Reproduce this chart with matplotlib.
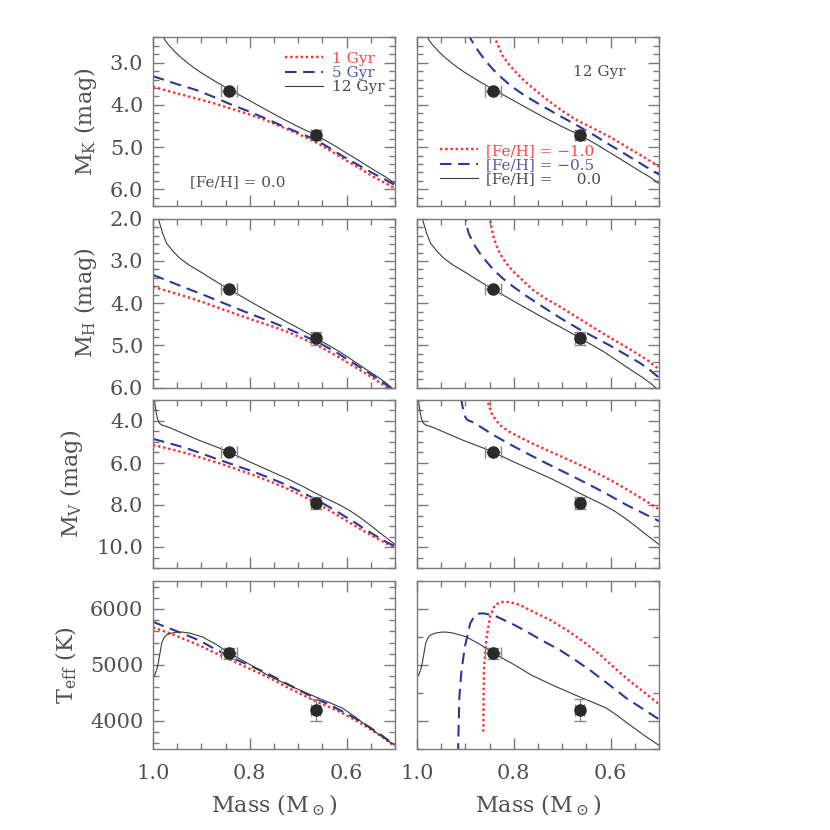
import numpy as np
import matplotlib
matplotlib.use("Agg")
import matplotlib.pyplot as plt
from matplotlib.ticker import MultipleLocator, FormatStrFormatter, NullFormatter

plt.rcParams['font.family'] = ['DejaVu Serif']
plt.rcParams['mathtext.fontset'] = 'dejavuserif'

# ------------------------------------------------------------------ data
# M_K
mk_12_m = [0.986, 0.979, 0.970, 0.955, 0.944, 0.925, 0.903, 0.875, 0.843, 0.800, 0.772, 0.740, 0.703, 0.664, 0.630, 0.600, 0.570, 0.545, 0.520, 0.500]
mk_12_v = [2.20, 2.40, 2.55, 2.74, 2.86, 3.04, 3.22, 3.42, 3.63, 3.90, 4.08, 4.28, 4.50, 4.71, 4.93, 5.14, 5.35, 5.53, 5.70, 5.86]
mk_age_m = [1.000, 0.950, 0.910, 0.875, 0.841, 0.805, 0.772, 0.740, 0.703, 0.661, 0.630, 0.600, 0.570, 0.545, 0.520, 0.500]
mk_5_v = [3.32, 3.51, 3.65, 3.81, 3.98, 4.14, 4.30, 4.46, 4.64, 4.84, 5.06, 5.27, 5.46, 5.62, 5.77, 5.90]
mk_1_v = [3.57, 3.73, 3.85, 3.96, 4.08, 4.21, 4.34, 4.49, 4.67, 4.90, 5.11, 5.32, 5.52, 5.70, 5.85, 5.98]
mk_m05_m = [0.895, 0.890, 0.880, 0.870, 0.856, 0.842, 0.825, 0.808, 0.790, 0.773, 0.739, 0.705, 0.670, 0.635, 0.601, 0.566, 0.532, 0.498]
mk_m05_v = [2.30, 2.42, 2.61, 2.78, 2.99, 3.17, 3.36, 3.53, 3.68, 3.81, 4.04, 4.26, 4.48, 4.71, 4.95, 5.19, 5.43, 5.66]
mk_m10_m = [0.845, 0.839, 0.830, 0.822, 0.808, 0.794, 0.777, 0.760, 0.742, 0.725, 0.700, 0.670, 0.635, 0.601, 0.566, 0.532, 0.498]
mk_m10_v = [2.25, 2.42, 2.66, 2.86, 3.07, 3.25, 3.44, 3.61, 3.78, 3.93, 4.14, 4.36, 4.56, 4.76, 5.00, 5.23, 5.47]

# M_H
mh_12_m = [0.995, 0.989, 0.980, 0.972, 0.958, 0.944, 0.925, 0.903, 0.875, 0.843, 0.793, 0.760, 0.724, 0.690, 0.663, 0.640, 0.614, 0.585, 0.558, 0.535, 0.517, 0.505]
mh_12_v = [1.75, 2.00, 2.35, 2.58, 2.78, 2.94, 3.10, 3.25, 3.45, 3.67, 4.00, 4.21, 4.44, 4.65, 4.83, 4.98, 5.15, 5.37, 5.58, 5.75, 5.90, 6.02]
mh_age_m = [1.000, 0.965, 0.930, 0.896, 0.862, 0.828, 0.793, 0.758, 0.724, 0.690, 0.655, 0.620, 0.586, 0.558, 0.531, 0.515, 0.500]
mh_5_v = [3.33, 3.49, 3.65, 3.80, 3.96, 4.12, 4.28, 4.43, 4.59, 4.76, 4.95, 5.17, 5.42, 5.62, 5.82, 5.96, 6.08]
mh_1_v = [3.61, 3.73, 3.85, 3.98, 4.12, 4.26, 4.40, 4.53, 4.67, 4.84, 5.03, 5.25, 5.49, 5.68, 5.88, 6.00, 6.12]
mh_m05_m = [0.903, 0.899, 0.897, 0.893, 0.888, 0.880, 0.870, 0.856, 0.842, 0.822, 0.801, 0.774, 0.746, 0.718, 0.691, 0.664, 0.636, 0.600, 0.567, 0.540, 0.519, 0.498]
mh_m05_v = [1.80, 2.00, 2.19, 2.35, 2.47, 2.65, 2.82, 3.02, 3.21, 3.42, 3.61, 3.83, 4.04, 4.25, 4.44, 4.62, 4.79, 5.01, 5.23, 5.41, 5.58, 5.78]
mh_m10_m = [0.852, 0.849, 0.846, 0.842, 0.836, 0.829, 0.816, 0.801, 0.780, 0.760, 0.733, 0.705, 0.677, 0.649, 0.615, 0.581, 0.553, 0.525, 0.498]
mh_m10_v = [1.80, 2.00, 2.22, 2.43, 2.63, 2.82, 3.05, 3.25, 3.48, 3.69, 3.90, 4.08, 4.28, 4.48, 4.72, 4.95, 5.14, 5.34, 5.58]

# M_V
mv_12_m = [1.000, 0.997, 0.994, 0.991, 0.987, 0.982, 0.975, 0.965, 0.950, 0.930, 0.910, 0.889, 0.865, 0.843, 0.820, 0.793, 0.760, 0.724, 0.690, 0.663, 0.640, 0.614, 0.590, 0.572, 0.550, 0.531, 0.515, 0.500]
mv_12_v = [2.70, 3.00, 3.50, 3.90, 4.10, 4.19, 4.24, 4.32, 4.47, 4.67, 4.87, 5.06, 5.27, 5.48, 5.73, 6.02, 6.36, 6.73, 7.12, 7.45, 7.71, 8.00, 8.32, 8.60, 8.98, 9.33, 9.61, 9.88]
mv_age_m = [1.000, 0.965, 0.930, 0.896, 0.862, 0.828, 0.793, 0.758, 0.724, 0.690, 0.655, 0.620, 0.586, 0.558, 0.531, 0.515, 0.500]
mv_5_v = [4.85, 5.07, 5.30, 5.58, 5.86, 6.13, 6.41, 6.72, 7.05, 7.42, 7.84, 8.31, 8.79, 9.21, 9.59, 9.80, 9.96]
mv_1_v = [5.14, 5.33, 5.54, 5.78, 6.02, 6.29, 6.57, 6.88, 7.21, 7.58, 8.00, 8.47, 8.95, 9.33, 9.67, 9.86, 10.02]
mv_m05_m = [0.909, 0.906, 0.903, 0.900, 0.896, 0.891, 0.887, 0.870, 0.842, 0.808, 0.773, 0.739, 0.705, 0.670, 0.636, 0.601, 0.567, 0.532, 0.498]
mv_m05_v = [2.90, 3.30, 3.60, 3.82, 3.95, 4.00, 4.03, 4.26, 4.67, 5.11, 5.54, 5.94, 6.33, 6.73, 7.13, 7.56, 8.00, 8.40, 8.79]
mv_m10_m = [0.857, 0.853, 0.850, 0.846, 0.838, 0.829, 0.810, 0.787, 0.760, 0.732, 0.698, 0.663, 0.628, 0.594, 0.560, 0.525, 0.498]
mv_m10_v = [2.90, 3.15, 3.35, 3.63, 3.92, 4.19, 4.50, 4.78, 5.09, 5.38, 5.73, 6.10, 6.48, 6.89, 7.35, 7.84, 8.24]

# T_eff
te_12_m = [1.000, 0.996, 0.992, 0.989, 0.985, 0.982, 0.977, 0.972, 0.962, 0.950, 0.940, 0.925, 0.899, 0.870, 0.844, 0.800, 0.764, 0.720, 0.665, 0.635, 0.608, 0.585, 0.565, 0.530, 0.501]
te_12_v = [4770, 4830, 4930, 5040, 5240, 5390, 5490, 5536, 5570, 5586, 5588, 5570, 5506, 5370, 5220, 5010, 4821, 4640, 4434, 4327, 4227, 4090, 3959, 3740, 3571]
te_5_m = [1.000, 0.984, 0.950, 0.906, 0.875, 0.842, 0.800, 0.764, 0.720, 0.665, 0.635, 0.608, 0.585, 0.565, 0.530, 0.501]
te_5_v = [5773, 5714, 5600, 5446, 5300, 5149, 4990, 4851, 4650, 4405, 4290, 4167, 4060, 3959, 3760, 3571]
te_1_m = [1.000, 0.956, 0.906, 0.875, 0.842, 0.800, 0.764, 0.720, 0.665, 0.635, 0.608, 0.585, 0.565, 0.530, 0.501]
te_1_v = [5673, 5536, 5357, 5230, 5101, 4930, 4791, 4590, 4357, 4245, 4137, 4030, 3929, 3735, 3554]
te_m05_m = [0.915, 0.9145, 0.9125, 0.910, 0.908, 0.904, 0.901, 0.895, 0.890, 0.880, 0.872, 0.863, 0.850, 0.835, 0.800, 0.773, 0.740, 0.705, 0.675, 0.643, 0.600, 0.567, 0.530, 0.498]
te_m05_v = [3400, 3700, 4434, 4700, 4911, 5150, 5327, 5560, 5744, 5893, 5918, 5923, 5900, 5863, 5720, 5595, 5430, 5268, 5100, 4911, 4627, 4405, 4198, 4018]
te_m10_m = [0.863, 0.8625, 0.8616, 0.859, 0.856, 0.849, 0.839, 0.828, 0.818, 0.805, 0.787, 0.760, 0.725, 0.690, 0.656, 0.620, 0.587, 0.560, 0.532, 0.498]
te_m10_v = [3810, 4400, 4911, 5250, 5506, 5863, 6071, 6120, 6131, 6115, 6071, 5950, 5804, 5620, 5417, 5170, 4911, 4710, 4523, 4286]

# observed binary components
star_mass = [0.843, 0.664]
star_mass_err = [0.016, 0.009]
star_mk = [3.66, 4.72]
star_mk_err = [0.04, 0.12]
star_mh = [3.67, 4.83]
star_mh_err = [0.04, 0.15]
star_mv = [5.49, 7.92]
star_mv_err = [0.06, 0.28]
star_teff = [5209, 4196]
star_teff_err = [100, 200]

age_labels = ['1 Gyr', '5 Gyr', '12 Gyr']
feh_labels = ['[Fe/H] = \u22121.0', '[Fe/H] = \u22120.5', '[Fe/H] =  \u2007 0.0']
y_labels = [r'M$_\mathrm{K}$ (mag)', r'M$_\mathrm{H}$ (mag)', r'M$_\mathrm{V}$ (mag)', r'T$_\mathrm{eff}$ (K)']
x_label = r'Mass (M$_\odot$)'

# ------------------------------------------------------------------ styles
RED = '#ff2b2b'
BLUE = '#2b3896'
BLK = '#3c3c3c'
GREY = '#7a7a7a'
TXT = '#505050'
dot_kw = dict(color=RED, lw=1.7, linestyle=(0, (1, 1.2)))
dash_kw = dict(color=BLUE, lw=1.5, linestyle=(0, (5.5, 3.2)))
sol_kw = dict(color=BLK, lw=0.8)

W, H = 830, 830
fig = plt.figure(figsize=(W / 100, H / 100), dpi=100)
col_x = [153, 417]
col_w = 242
row_top = [37.3, 218.7, 400, 581]
row_h = [169, 169, 168, 168]

ylims = [(6.4, 2.4), (6.0, 2.0), (11.0, 3.0), (3500, 6500)]
ymaj = [1.0, 1.0, 2.0, 1000]
ymin = [0.2, 0.2, 0.5, 200]
yfmt = ['%.1f', '%.1f', '%.1f', '%d']

left_sets = [
    [(mk_age_m, mk_1_v), (mk_age_m, mk_5_v), (mk_12_m, mk_12_v)],
    [(mh_age_m, mh_1_v), (mh_age_m, mh_5_v), (mh_12_m, mh_12_v)],
    [(mv_age_m, mv_1_v), (mv_age_m, mv_5_v), (mv_12_m, mv_12_v)],
    [(te_1_m, te_1_v), (te_5_m, te_5_v), (te_12_m, te_12_v)],
]
right_sets = [
    [(mk_m10_m, mk_m10_v), (mk_m05_m, mk_m05_v), (mk_12_m, mk_12_v)],
    [(mh_m10_m, mh_m10_v), (mh_m05_m, mh_m05_v), (mh_12_m, mh_12_v)],
    [(mv_m10_m, mv_m10_v), (mv_m05_m, mv_m05_v), (mv_12_m, mv_12_v)],
    [(te_m10_m, te_m10_v), (te_m05_m, te_m05_v), (te_12_m, te_12_v)],
]
stars = [(star_mk, star_mk_err), (star_mh, star_mh_err), (star_mv, star_mv_err), (star_teff, star_teff_err)]

for r in range(4):
    for c in range(2):
        ax = fig.add_axes([col_x[c] / W, 1 - (row_top[r] + row_h[r]) / H, col_w / W, row_h[r] / H])
        sets = left_sets[r] if c == 0 else right_sets[r]
        labels = age_labels if c == 0 else feh_labels
        h1, = ax.plot(sets[0][0], sets[0][1], label=labels[0], **dot_kw)
        h2, = ax.plot(sets[1][0], sets[1][1], label=labels[1], **dash_kw)
        h3, = ax.plot(sets[2][0], sets[2][1], label=labels[2], **sol_kw)
        ax.errorbar(star_mass, stars[r][0], xerr=star_mass_err, yerr=stars[r][1],
                    fmt='o', color='#2a2a2a', ms=8, ecolor='#8a8a8a', elinewidth=1,
                    capsize=4, capthick=1, zorder=5)
        ax.set_xlim(1.0, 0.5)
        ax.set_ylim(*ylims[r])
        ax.xaxis.set_major_locator(MultipleLocator(0.2))
        ax.xaxis.set_minor_locator(MultipleLocator(0.05))
        ax.yaxis.set_major_locator(MultipleLocator(ymaj[r]))
        if r == 3 and c == 1:
            ax.yaxis.set_minor_locator(MultipleLocator(500))
        else:
            ax.yaxis.set_minor_locator(MultipleLocator(ymin[r]))
        ax.xaxis.set_major_formatter(FormatStrFormatter('%.1f'))
        ax.yaxis.set_major_formatter(FormatStrFormatter(yfmt[r]))
        ax.tick_params(which='both', direction='in', top=True, right=True, color=GREY,
                       labelcolor=TXT, labelsize=15, width=1)
        ax.tick_params(which='major', length=8)
        ax.tick_params(which='minor', length=4)
        ax.tick_params(axis='y', pad=7)
        ax.tick_params(axis='x', pad=11)
        for s in ax.spines.values():
            s.set_color(GREY)
            s.set_linewidth(1)
        if c == 1:
            ax.yaxis.set_major_formatter(NullFormatter())
        else:
            ax.set_ylabel(y_labels[r], fontsize=16, color=TXT, labelpad=8)
        if r < 3:
            ax.xaxis.set_major_formatter(NullFormatter())
        else:
            ax.set_xlabel(x_label, fontsize=16, color=TXT, labelpad=7)
        if r == 0:
            if c == 0:
                leg = ax.legend(handles=[h1, h2, h3], loc='upper left', bbox_to_anchor=(0.545, 0.915),
                                frameon=False, fontsize=11, handlelength=2.5, handletextpad=0.6,
                                labelspacing=0.02, borderpad=0, borderaxespad=0)
                ax.text(0.153, 0.144, '[Fe/H] = 0.0', transform=ax.transAxes, fontsize=11,
                        color=TXT, ha='left', va='center')
            else:
                leg = ax.legend(handles=[h1, h2, h3], loc='upper left', bbox_to_anchor=(0.095, 0.37),
                                frameon=False, fontsize=11, handlelength=2.5, handletextpad=0.5,
                                labelspacing=0.02, borderpad=0, borderaxespad=0)
                ax.text(0.645, 0.795, '12 Gyr', transform=ax.transAxes, fontsize=11,
                        color=TXT, ha='left', va='center')
            for t, col in zip(leg.get_texts(), ['#ff4545', '#5656ad', '#4a4a4a']):
                t.set_color(col)

fig.savefig('out.png', dpi=100)
